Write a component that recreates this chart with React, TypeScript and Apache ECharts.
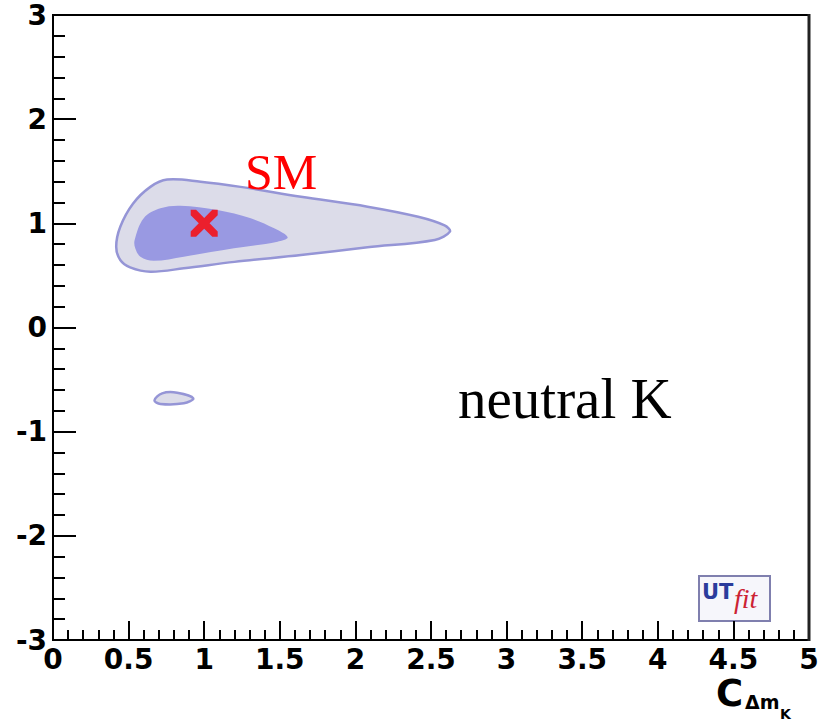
import React, { useEffect, useRef } from "react";
import * as echarts from "echarts";

// Outer (95%) contour, data coordinates
const outerX = [0.418, 0.445, 0.53, 0.644, 0.755, 0.976, 1.24, 1.64, 2.08, 2.415, 2.59, 2.625, 2.525, 2.08, 1.64, 1.2, 0.865, 0.644, 0.51, 0.445];
const outerY = [0.776, 0.967, 1.19, 1.35, 1.42, 1.40, 1.35, 1.255, 1.16, 1.063, 0.98, 0.92, 0.84, 0.77, 0.696, 0.63, 0.568, 0.536, 0.578, 0.648];
// Inner (68%) contour
const innerX = [0.54, 0.60, 0.71, 0.843, 1.087, 1.308, 1.463, 1.552, 1.485, 1.197, 0.865, 0.666, 0.578, 0.544];
const innerY = [0.84, 1.05, 1.144, 1.169, 1.128, 1.048, 0.952, 0.866, 0.824, 0.76, 0.68, 0.641, 0.68, 0.76];
// Small island (95%)
const islandX = [0.671, 0.722, 0.821, 0.928, 0.865, 0.71];
const islandY = [-0.70, -0.632, -0.626, -0.68, -0.728, -0.734];
// Standard Model point
const smPoint = [1, 1];

const xMin = 0, xMax = 5, xStep = 0.5;
const yMin = -3, yMax = 3, yStep = 1;

const labelFont = { fontFamily: "DejaVu Sans", fontWeight: "bold" as const, fontSize: 28, lineHeight: 28, color: "#000" };

function polySeries(xs: number[], ys: number[], fill: string, stroke: string | null, z: number) {
  const pts = xs.map((x, i) => [x, ys[i]]);
  return {
    type: "custom",
    z,
    silent: true,
    data: [[xs[0], ys[0]]],
    renderItem: (params: any, api: any) => {
      const points = pts.map((p) => api.coord(p));
      return {
        type: "polygon",
        shape: { points, smooth: 0.35 },
        style: stroke
          ? { fill, stroke, lineWidth: 2.5 }
          : { fill, stroke: "none" },
      };
    },
  };
}

const XPATH = "path://M0,0 L2,0 L5,3 L8,0 L10,0 L10,2 L7,5 L10,8 L10,10 L8,10 L5,7 L2,10 L0,10 L0,8 L3,5 L0,2 Z";

export default function App() {
  const ref = useRef<HTMLDivElement>(null);
  useEffect(() => {
    if (!ref.current) return;
    const chart = echarts.init(ref.current, undefined, { renderer: "svg" });
    chart.setOption({
      animation: false,
      backgroundColor: "#fff",
      grid: { left: 53, right: 25, top: 15, bottom: 82, show: true, borderColor: "#000", borderWidth: 2, backgroundColor: "transparent" },
      xAxis: {
        type: "value",
        min: xMin,
        max: xMax,
        interval: xStep,
        axisLine: { show: true, onZero: false, lineStyle: { color: "#000", width: 2 } },
        axisTick: { show: true, inside: true, length: 19, lineStyle: { color: "#000", width: 2 } },
        minorTick: { show: true, splitNumber: 5, length: 10, lineStyle: { color: "#000", width: 2 } },
        splitLine: { show: false },
        minorSplitLine: { show: false },
        axisLabel: { ...labelFont, margin: 5, showMinLabel: true, showMaxLabel: true },
      },
      yAxis: {
        type: "value",
        min: yMin,
        max: yMax,
        interval: yStep,
        axisLine: { show: true, onZero: false, lineStyle: { color: "#000", width: 2 } },
        axisTick: { show: true, inside: true, length: 23, lineStyle: { color: "#000", width: 2 } },
        minorTick: { show: true, splitNumber: 5, length: 12, lineStyle: { color: "#000", width: 2 } },
        splitLine: { show: false },
        minorSplitLine: { show: false },
        axisLabel: { ...labelFont, margin: 6, showMinLabel: true, showMaxLabel: true },
      },
      series: [
        polySeries(outerX, outerY, "#dcdce9", "#9595d6", 2),
        polySeries(islandX, islandY, "#dcdce9", "#9595d6", 2),
        polySeries(innerX, innerY, "#9999e2", null, 3),
        {
          type: "scatter",
          z: 5,
          silent: true,
          symbol: XPATH,
          symbolSize: 27,
          itemStyle: { color: "#ff0000" },
          data: [smPoint],
        },
      ],
      graphic: [
        { type: "line", shape: { x1: 809, y1: 14, x2: 809, y2: 641 }, style: { stroke: "#222", lineWidth: 3 }, z: 10 },
        { type: "text", left: 245, top: 147, style: { text: "SM", font: "50px 'Liberation Serif'", fill: "#ff0000" }, z: 10 },
        { type: "text", left: 458, top: 370, style: { text: "neutral K", font: "57px 'Liberation Serif'", fill: "#000" }, z: 10 },
        { type: "text", left: 716, top: 675, style: { text: "C", font: "bold 37px 'DejaVu Sans'", lineHeight: 37, fill: "#000" }, z: 10 },
        { type: "text", left: 745, top: 692, style: { text: "Δm", font: "bold 19px 'DejaVu Sans'", fill: "#000" }, z: 10 },
        { type: "text", left: 780, top: 707, style: { text: "K", font: "bold 14px 'DejaVu Sans'", fill: "#000" }, z: 10 },
        {
          type: "group",
          left: 698,
          top: 575,
          z: 10,
          children: [
            { type: "rect", shape: { x: 0, y: 0, width: 71, height: 45 }, style: { fill: "#f6f6fb", stroke: "#7f7fae", lineWidth: 2 } },
            { type: "text", x: 3, y: 5, style: { text: "UT", font: "bold 21px 'DejaVu Sans'", fill: "#2b3c9c" } },
            { type: "text", x: 35, y: 8, style: { text: "fit", font: "italic 28px 'Liberation Serif'", fill: "#cc2233" } },
          ],
        },
      ],
    });
    return () => chart.dispose();
  }, []);
  return <div ref={ref} style={{ position: "fixed", left: 0, top: 0, width: 834, height: 722 }} />;
}
